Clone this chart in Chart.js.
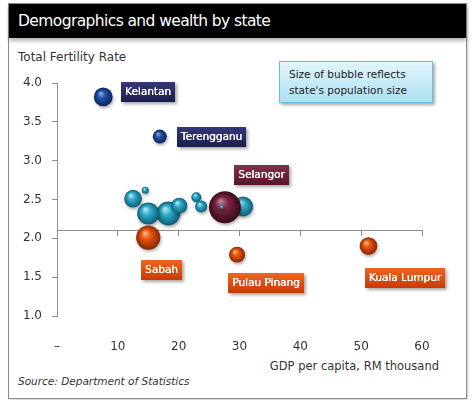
<!DOCTYPE html>
<html>
<head>
<meta charset="utf-8">
<script src="https://cdn.jsdelivr.net/npm/chart.js@4.4.0/dist/chart.umd.min.js"></script>
<style>
    html, body { margin: 0; padding: 0; background: #fff; }
    body { width: 473px; height: 400px; position: relative; overflow: hidden; font-family: "DejaVu Sans", sans-serif; color: #333; }
    #panel { position: absolute; left: 8px; top: 3px; width: 457px; height: 394px; border: 1px solid #8a8a8a; background: #fff; box-shadow: 1px 1px 2px rgba(0,0,0,.2); }
    #bar { position: absolute; left: 0; top: 0; right: 0; height: 34px; background: #000; color: #fff; font-size: 15.5px; letter-spacing: -0.6px; line-height: 35px; padding-left: 9px; box-shadow: 0 3px 4px rgba(0,0,0,.3); }
    .txt { position: absolute; white-space: nowrap; }
    #ytitle { left: 18px; top: 50px; font-size: 12px; }
    #xtitle { right: 34px; top: 359px; font-size: 11.5px; }
    #source { left: 18px; top: 375px; font-size: 10.5px; font-style: italic; }
    #note { position: absolute; left: 279px; top: 61px; width: 143px; height: 32px; padding: 4px 0 4px 9px; border: 1px solid #66c0da; background: linear-gradient(#e2f5fc, #ade0f3); box-shadow: 2px 2px 3px rgba(0,0,0,.35); font-size: 10.5px; line-height: 16px; color: #222; }
    #chart { position: absolute; left: 0; top: 0; }
</style>
</head>
<body>
<div id="panel"><div id="bar">Demographics and wealth by state</div></div>
<div class="txt" id="ytitle">Total Fertility Rate</div>
<div class="txt" id="xtitle">GDP per capita, RM thousand</div>
<div class="txt" id="source">Source: Department of Statistics</div>
<div id="note">Size of bubble reflects<br>state's population size</div>
<canvas id="chart" width="473" height="400"></canvas>
<script>
// Data (unnamed bubbles are the other states)
// order = drawing order, later ones sit on top
const states = ['', '', '', '', '', '', '', '', 'Selangor', '', 'Kelantan', 'Terengganu', 'Sabah', 'Pulau Pinang', 'Kuala Lumpur'];
const gdpPerCapita = [30.6, 12.5, 18.3, 15.0, 20.1, 14.5, 22.9, 23.7, 27.6, 27.1, 7.6, 16.9, 15.0, 29.6, 51.2];
const fertilityRate = [2.41, 2.51, 2.32, 2.32, 2.42, 2.62, 2.53, 2.41, 2.40, 2.40, 3.82, 3.31, 2.01, 1.79, 1.90];
const populationMn = [2.0, 1.6, 2.9, 2.5, 1.3, 0.25, 0.5, 0.75, 5.2, 0.08, 1.8, 1.0, 3.0, 1.3, 1.6];
const stateGroup = ['mid', 'mid', 'mid', 'mid', 'mid', 'mid', 'mid', 'mid', 'top', 'mid', 'high', 'high', 'low', 'low', 'low'];
const fertilityTicks = [1.0, 1.5, 2.0, 2.5, 3.0, 3.5, 4.0];
const gdpTicks = [0, 10, 20, 30, 40, 50, 60];
const axisCross = 2.1;

// Styles
const bubbleScale = 7;
const bubbleColors = {
    mid: ['#c4f2fb', '#31abca', '#0f5d76'],
    high: ['#9ab8ee', '#2052a6', '#0b2459'],
    top: ['#c58ba0', '#7a2543', '#360918'],
    low: ['#ffc48f', '#e8530f', '#852802']
};
const boxColors = {
    high: ['#35387a', '#1c1d4d'],
    top: ['#84304d', '#58142a'],
    low: ['#f2641f', '#c83a06']
};
const labelOffsets = {
    'Kelantan': [18, -15],
    'Terengganu': [17, -10],
    'Selangor': [9, -42],
    'Sabah': [-7, 22],
    'Pulau Pinang': [-9, 18],
    'Kuala Lumpur': [-3, 22]
};
const axisColor = '#8c8c8c';

function bubbleFill(ctx) {
    const group = stateGroup[ctx.dataIndex] || 'mid';
    const pal = bubbleColors[group];
    if (ctx.type !== 'data' || !ctx.parsed) return pal[1];
    const chart = ctx.chart;
    const px = chart.scales.x.getPixelForValue(ctx.parsed.x);
    const py = chart.scales.y.getPixelForValue(ctx.parsed.y);
    const r = ctx.raw.r;
    // scales are not laid out yet on the first pass
    if (!isFinite(px) || !isFinite(py) || !isFinite(r)) return pal[1];
    const g = chart.ctx.createRadialGradient(px - r * 0.3, py - r * 0.42, 0, px, py, r);
    g.addColorStop(0, pal[0]);
    g.addColorStop(0.4, pal[1]);
    g.addColorStop(1, pal[2]);
    return g;
}

const bubbleShadow = {
    id: 'bubbleShadow',
    beforeDatasetsDraw(chart) {
        const c = chart.ctx;
        c.save();
        c.shadowColor = 'rgba(0,0,0,0.3)';
        c.shadowBlur = 3;
        c.shadowOffsetX = 1;
        c.shadowOffsetY = 2;
    },
    afterDatasetsDraw(chart) {
        chart.ctx.restore();
    }
};

const stateLabels = {
    id: 'stateLabels',
    afterDatasetsDraw(chart) {
        const c = chart.ctx;
        const meta = chart.getDatasetMeta(0);
        c.save();
        c.font = '10.5px "DejaVu Sans", sans-serif';
        c.textAlign = 'center';
        c.textBaseline = 'middle';
        states.forEach((name, i) => {
            if (!name) return;
            const el = meta.data[i];
            const off = labelOffsets[name];
            const w = Math.round(c.measureText(name).width) + 8;
            const h = 20;
            const bx = Math.round(el.x + off[0]);
            const by = Math.round(el.y + off[1]);
            const pal = boxColors[stateGroup[i]];
            const g = c.createLinearGradient(0, by, 0, by + h);
            g.addColorStop(0, pal[0]);
            g.addColorStop(1, pal[1]);
            c.shadowColor = 'rgba(0,0,0,0.35)';
            c.shadowBlur = 3;
            c.shadowOffsetX = 2;
            c.shadowOffsetY = 2;
            c.fillStyle = g;
            c.fillRect(bx, by, w, h);
            c.shadowColor = 'transparent';
            c.fillStyle = '#fff';
            c.fillText(name, bx + w / 2, by + h / 2 + 0.5);
            // a second pass at a sub-pixel offset thickens the white text a little
            c.fillText(name, bx + w / 2 + 0.3, by + h / 2 + 0.5);
        });
        c.restore();
    }
};

Chart.defaults.font.family = '"DejaVu Sans", sans-serif';

new Chart(document.getElementById('chart'), {
    type: 'bubble',
    data: {
        datasets: [{
            label: 'States',
            data: states.map((s, i) => ({
                x: gdpPerCapita[i],
                y: fertilityRate[i],
                r: bubbleScale * Math.sqrt(populationMn[i])
            })),
            backgroundColor: bubbleFill,
            borderWidth: 0,
            xAxisID: 'x',
            yAxisID: 'y'
        }]
    },
    options: {
        responsive: false,
        animation: false,
        layout: { padding: { left: 0, top: 83, right: 51, bottom: 44 } },
        plugins: {
            legend: { display: false },
            tooltip: { enabled: false }
        },
        scales: {
            x: {
                type: 'linear',
                position: { y: axisCross },
                min: gdpTicks[0],
                max: gdpTicks[gdpTicks.length - 1],
                afterBuildTicks: s => { s.ticks = gdpTicks.map(v => ({ value: v })); },
                ticks: { display: false },
                grid: { drawOnChartArea: false, drawTicks: true, tickLength: 5, color: axisColor },
                border: { color: axisColor }
            },
            x2: {
                type: 'linear',
                axis: 'x',
                position: 'bottom',
                min: gdpTicks[0],
                max: gdpTicks[gdpTicks.length - 1],
                afterBuildTicks: s => { s.ticks = gdpTicks.map(v => ({ value: v })); },
                ticks: {
                    color: '#333',
                    font: { size: 12 },
                    padding: 24,
                    maxRotation: 0,
                    callback: v => v === 0 ? '–' : v
                },
                grid: { display: false, drawTicks: false },
                border: { display: false },
                afterFit: s => { s.height = 40; }
            },
            y: {
                position: 'left',
                min: fertilityTicks[0],
                max: fertilityTicks[fertilityTicks.length - 1],
                afterBuildTicks: s => { s.ticks = fertilityTicks.map(v => ({ value: v })); },
                ticks: {
                    color: '#333',
                    font: { size: 12 },
                    padding: 10,
                    callback: v => v.toFixed(1)
                },
                grid: { drawOnChartArea: false, tickLength: 5, color: axisColor },
                border: { color: axisColor },
                afterFit: s => { s.width = 57; }
            }
        }
    },
    plugins: [bubbleShadow, stateLabels]
});
</script>
</body>
</html>
